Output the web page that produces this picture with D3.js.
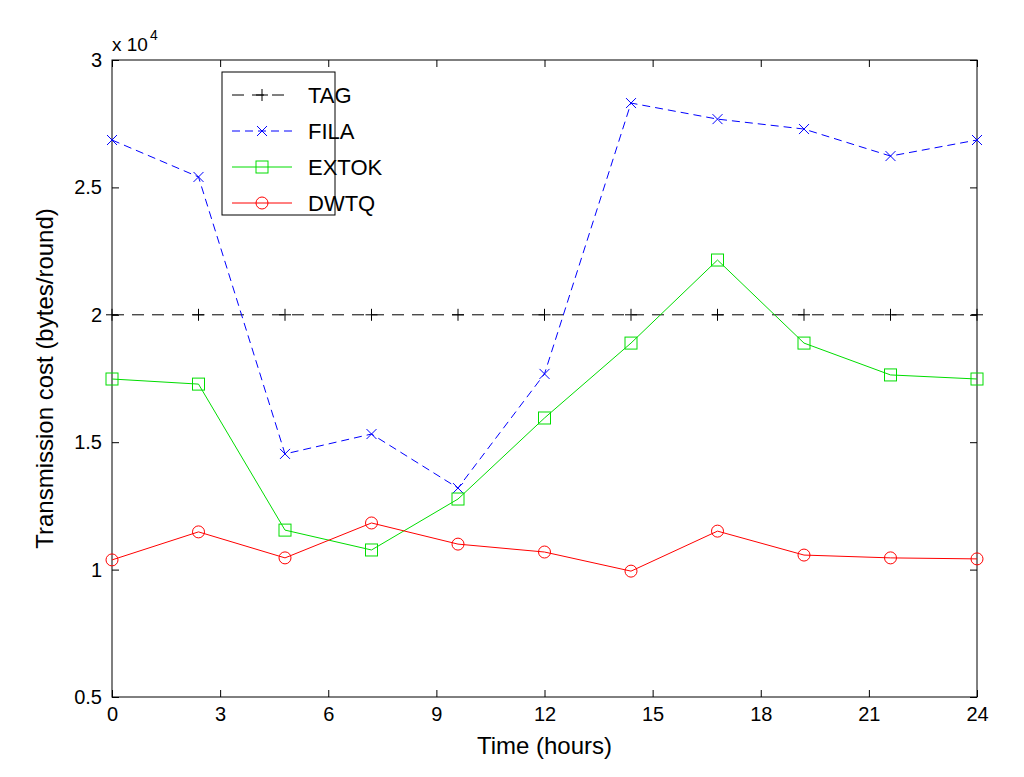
<!DOCTYPE html>
<html><head><meta charset="utf-8">
<script src="https://cdn.jsdelivr.net/npm/d3@7"></script>
<style>body{margin:0;background:#fff}svg{font-family:"Liberation Sans",Arial,sans-serif}</style>
</head><body><svg id="c" width="1024" height="777"></svg>
<script>
const hours = [0,2.4,4.8,7.2,9.6,12,14.4,16.8,19.2,21.6,24];
const TAG   = [2,2,2,2,2,2,2,2,2,2,2];
const FILA  = [2.686,2.541,1.454,1.532,1.320,1.768,2.831,2.768,2.729,2.623,2.686];
const EXTOK = [1.748,1.728,1.155,1.077,1.277,1.595,1.889,2.215,1.889,1.764,1.748];
const DWTQ  = [1.038,1.148,1.046,1.183,1.100,1.069,0.994,1.151,1.057,1.046,1.042];
const xTicks = [0,3,6,9,12,15,18,21,24];
const yTicks = [0.5,1,1.5,2,2.5,3];

const svg = d3.select("#c");
const L=112,R=977,T=60,B=697;
const x = d3.scaleLinear().domain([0,24]).range([L,R]);
const y = d3.scaleLinear().domain([0.5,3]).range([B,T]);
svg.append("rect").attr("x",L).attr("y",T).attr("width",R-L).attr("height",B-T).attr("fill","none").attr("stroke","#000");
const ax = (g)=>g.selectAll("text").attr("font-size",20).attr("fill","#000");
svg.append("g").attr("transform",`translate(0,${B})`).call(d3.axisBottom(x).tickValues(xTicks).tickSize(-7).tickPadding(10)).call(g=>{g.select(".domain").remove();ax(g);});
svg.append("g").attr("transform",`translate(0,${T})`).call(d3.axisTop(x).tickValues(xTicks).tickSize(-7).tickFormat("")).call(g=>g.select(".domain").remove());
svg.append("g").attr("transform",`translate(${L},0)`).call(d3.axisLeft(y).tickValues(yTicks).tickSize(-7).tickPadding(10).tickFormat(d=>d)).call(g=>{g.select(".domain").remove();ax(g);});
svg.append("g").attr("transform",`translate(${R},0)`).call(d3.axisRight(y).tickValues(yTicks).tickSize(-7).tickFormat("")).call(g=>g.select(".domain").remove());
svg.append("text").attr("x",112).attr("y",51).attr("font-size",19).text("x 10");
svg.append("text").attr("x",150).attr("y",40).attr("font-size",14).text("4");
svg.append("text").attr("x",(L+R)/2).attr("y",754).attr("text-anchor","middle").attr("font-size",24).text("Time (hours)");
svg.append("text").attr("transform",`translate(53,${(T+B)/2}) rotate(-90)`).attr("text-anchor","middle").attr("font-size",24).text("Transmission cost (bytes/round)");

const series=[
 {name:"TAG",v:TAG,c:"#000",dash:"12,8",m:"plus"},
 {name:"FILA",v:FILA,c:"#0000ff",dash:"8,5",m:"x"},
 {name:"EXTOK",v:EXTOK,c:"#00dd00",dash:null,m:"square"},
 {name:"DWTQ",v:DWTQ,c:"#ff0000",dash:null,m:"circle"}];
const line=d3.line().x((d,i)=>x(hours[i])).y(d=>y(d));
function marker(g,t,cx,cy,c){
  if(t==="plus"){g.append("path").attr("d",`M${cx-6},${cy}H${cx+6}M${cx},${cy-6}V${cy+6}`).attr("stroke",c);}
  else if(t==="x"){g.append("path").attr("d",`M${cx-5},${cy-5}L${cx+5},${cy+5}M${cx-5},${cy+5}L${cx+5},${cy-5}`).attr("stroke",c);}
  else if(t==="square"){g.append("rect").attr("x",cx-6).attr("y",cy-6).attr("width",12).attr("height",12).attr("fill","none").attr("stroke",c);}
  else g.append("circle").attr("cx",cx).attr("cy",cy).attr("r",6).attr("fill","none").attr("stroke",c);
}
series.forEach(s=>{
  const p=svg.append("path").attr("d",line(s.v)).attr("fill","none").attr("stroke",s.c).attr("stroke-width",1);
  if(s.dash)p.attr("stroke-dasharray",s.dash);
  const g=svg.append("g");
  s.v.forEach((d,i)=>marker(g,s.m,x(hours[i]),y(d),s.c));
});
// legend
svg.append("rect").attr("x",222).attr("y",72).attr("width",113).attr("height",143).attr("fill","#fff").attr("stroke","#000");
series.forEach((s,i)=>{
  const yy=95+i*36;
  const l=svg.append("line").attr("x1",232).attr("x2",292).attr("y1",yy).attr("y2",yy).attr("stroke",s.c);
  if(s.dash)l.attr("stroke-dasharray",s.dash);
  marker(svg.append("g"),s.m,262,yy,s.c);
  svg.append("text").attr("x",308).attr("y",yy+8).attr("font-size",22).text(s.name);
});
</script></body></html>
